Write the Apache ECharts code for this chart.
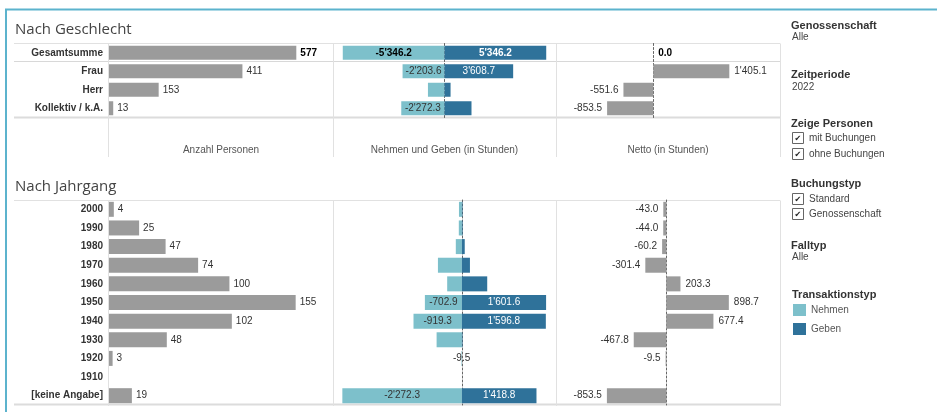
<!DOCTYPE html>
<html>
<head>
<meta charset="utf-8">
<script src="https://cdn.jsdelivr.net/npm/echarts@6/dist/echarts.min.js"></script>
<style>html,body{margin:0;padding:0;background:#fff}#main{width:937px;height:412px}</style>
</head>
<body>
<div id="main"></div>
<script>
var myChart = echarts.init(document.getElementById('main'));

// Nach Geschlecht
var sexCats = ['Gesamtsumme', 'Frau', 'Herr', 'Kollektiv / k.A.'];
var sexPersonen = [577, 411, 153, 13];
var sexNehmen = [-5346.2, -2203.6, -870.3, -2272.3];
var sexGeben = [5346.2, 3608.7, 318.7, 1418.8];
var sexNetto = [0.0, 1405.1, -551.6, -853.5];

// Nach Jahrgang
var yearCats = ['2000', '1990', '1980', '1970', '1960', '1950', '1940', '1930', '1920', '1910', '[keine Angabe]'];
var yearPersonen = [4, 25, 47, 74, 100, 155, 102, 48, 3, null, 19];
var yearNehmen = [-55, -58, -115, -455, -279, -702.9, -919.3, -480.2, -9.5, null, -2272.3];
var yearGeben = [12, 14, 54.8, 153.6, 482.3, 1601.6, 1596.8, 12.4, null, null, 1418.8];
var yearNetto = [-43.0, -44.0, -60.2, -301.4, 203.3, 898.7, 677.4, -467.8, -9.5, null, -853.5];

var FONT = '"Liberation Sans", Arial, sans-serif';
var GREY = '#9b9b9b';
var C_NEHMEN = '#7dc0cb';
var C_GEBEN = '#2f729a';

function fmt(v, dec) {
    var s = Math.abs(v).toFixed(dec).split('.');
    var whole = s[0].replace(/\B(?=(\d{3})+(?!\d))/g, "'");
    return (v < 0 ? '-' : '') + whole + (dec ? '.' + s[1] : '');
}

var panelX = [[109, 224], [333, 223], [556, 224]];
var sections = [
    {top: 43.5, height: 74, barWidth: 14, cats: sexCats, personen: sexPersonen, nehmen: sexNehmen, geben: sexGeben, netto: sexNetto,
     pMax: 690, ngMin: -5860, ngMax: 5860, nMin: -1798, nMax: 2342, labelMin: 1750, totalRow: true},
    {top: 200, height: 205, barWidth: 15, cats: yearCats, personen: yearPersonen, nehmen: yearNehmen, geben: yearGeben, netto: yearNetto,
     pMax: 186, ngMin: -2450, ngMax: 1790, nMin: -1585, nMax: 1634, labelMin: 640, totalRow: false}
];
var axisNames = ['Anzahl Personen', 'Nehmen und Geben (in Stunden)', 'Netto (in Stunden)'];

var grids = [], xAxes = [], yAxes = [], series = [];

sections.forEach(function (sec, s) {
    var ranges = [[0, sec.pMax], [sec.ngMin, sec.ngMax], [sec.nMin, sec.nMax]];
    panelX.forEach(function (px, p) {
        var idx = s * 3 + p;
        grids.push({left: px[0], width: px[1], top: sec.top, height: sec.height});
        xAxes.push({
            type: 'value', gridIndex: idx, min: ranges[p][0], max: ranges[p][1],
            axisLabel: {show: false}, axisTick: {show: false}, axisLine: {show: false}, splitLine: {show: false},
            name: s === 0 ? axisNames[p] : '', nameLocation: 'middle', nameGap: 28,
            nameTextStyle: {color: '#555', fontSize: 10, fontFamily: FONT}
        });
        yAxes.push({
            type: 'category', gridIndex: idx, data: sec.cats, inverse: true,
            axisTick: {show: false},
            axisLabel: {show: p === 0, fontSize: 10, fontWeight: 'bold', color: '#333', fontFamily: FONT, margin: 6},
            axisLine: {show: p > 0, onZero: true, lineStyle: {color: '#666', type: [2, 2], width: 1}}
        });
    });

    var boldFirst = function (v, i, extra) {
        var item = {value: v, label: extra || {}};
        if (sec.totalRow && i === 0) {
            item.label.fontWeight = 'bold';
        }
        return item;
    };

    series.push({
        type: 'bar', xAxisIndex: s * 3, yAxisIndex: s * 3, barWidth: sec.barWidth, silent: true,
        itemStyle: {color: GREY},
        label: {show: true, position: 'right', distance: 4, fontSize: 10, color: '#333', fontFamily: FONT},
        data: sec.personen.map(function (v, i) { return boldFirst(v, i, i === 0 && sec.totalRow ? {color: '#000'} : {}); })
    });
    series.push({
        name: 'Nehmen', type: 'bar', xAxisIndex: s * 3 + 1, yAxisIndex: s * 3 + 1, barWidth: sec.barWidth, barGap: '-100%', silent: true,
        itemStyle: {color: C_NEHMEN},
        label: {show: true, position: 'inside', fontSize: 10, color: '#333', fontFamily: FONT,
            formatter: function (p) {
                var other = sec.geben[p.dataIndex];
                return (Math.abs(p.value) >= sec.labelMin || other == null) ? fmt(p.value, 1) : '';
            }},
        data: sec.nehmen.map(function (v, i) { return boldFirst(v, i, i === 0 && sec.totalRow ? {color: '#000'} : {}); })
    });
    series.push({
        name: 'Geben', type: 'bar', xAxisIndex: s * 3 + 1, yAxisIndex: s * 3 + 1, barWidth: sec.barWidth, barGap: '-100%', silent: true,
        itemStyle: {color: C_GEBEN},
        label: {show: true, position: 'inside', fontSize: 10, color: '#fff', fontFamily: FONT,
            formatter: function (p) {
                return Math.abs(p.value) >= sec.labelMin ? fmt(p.value, 1) : '';
            }},
        data: sec.geben.map(function (v, i) { return boldFirst(v, i); })
    });
    series.push({
        type: 'bar', xAxisIndex: s * 3 + 2, yAxisIndex: s * 3 + 2, barWidth: sec.barWidth, silent: true,
        itemStyle: {color: GREY},
        label: {show: true, distance: 5, fontSize: 10, color: '#333', fontFamily: FONT,
            formatter: function (p) { return fmt(p.value, 1); }},
        data: sec.netto.map(function (v, i) {
            if (v == null) return null;
            var extra = {position: v < 0 ? 'left' : 'right'};
            if (i === 0 && sec.totalRow) extra.color = '#000';
            return boldFirst(v, i, extra);
        })
    });
});

// separator lines
var LINE = '#e1e1e1';
var graphics = [];
function hline(y, x1, x2, w, c) {
    graphics.push({type: 'line', silent: true, shape: {x1: x1, y1: y, x2: x2, y2: y}, style: {stroke: c || LINE, lineWidth: w || 1}});
}
function vline(x, y1, y2, c) {
    graphics.push({type: 'line', silent: true, shape: {x1: x, y1: y1, x2: x, y2: y2}, style: {stroke: c || LINE, lineWidth: 1}});
}
hline(43.5, 14, 780);
hline(61.5, 14, 780, 1, '#d8d8d8');
hline(117.5, 14, 780, 2, '#dcdcdc');
hline(200.5, 14, 780);
hline(404.5, 14, 780, 2, '#dcdcdc');
[108.5, 333.5, 556.5, 780.5].forEach(function (x) {
    vline(x, 43.5, 157);
    vline(x, 200.5, 406);
});
// outer frame
hline(9.5, 5, 937, 2, '#5cb3cd');
vline(6, 9, 412, '#5cb3cd');
graphics[graphics.length - 1].style.lineWidth = 2;

// filter panel
function txt(x, y, t, bold, size, color) {
    graphics.push({type: 'text', silent: true, x: x, y: y,
        style: {text: t, fill: color || '#333', font: (bold ? 'bold ' : '') + (size || 10) + 'px ' + FONT, textVerticalAlign: 'middle'}});
}
function checkbox(x, y, t) {
    graphics.push({type: 'rect', silent: true, shape: {x: x + 0.5, y: y - 5.5, width: 11, height: 11},
        style: {fill: '#fff', stroke: '#666', lineWidth: 1}});
    txt(x + 2.5, y + 0.5, '\u2714', false, 8, '#222');
    graphics[graphics.length - 1].style.font = '8px "DejaVu Sans"';
    txt(x + 17, y, t, false, 10, '#444');
}
txt(791, 26, 'Genossenschaft', true, 11);
txt(792, 37, 'Alle', false, 10, '#444');
txt(791, 75, 'Zeitperiode', true, 11);
txt(792, 87, '2022', false, 10, '#444');
txt(791, 124, 'Zeige Personen', true, 11);
checkbox(792, 138, 'mit Buchungen');
checkbox(792, 154, 'ohne Buchungen');
txt(791, 184, 'Buchungstyp', true, 11);
checkbox(792, 199, 'Standard');
checkbox(792, 214, 'Genossenschaft');
txt(791, 246, 'Falltyp', true, 11);
txt(792, 257, 'Alle', false, 10, '#444');
txt(792, 295, 'Transaktionstyp', true, 11);

option = {
    animation: false,
    backgroundColor: '#fff',
    title: [
        {text: 'Nach Geschlecht', left: 15, top: 22, padding: 0, textStyle: {fontFamily: '"Open Sans"', fontSize: 15, fontWeight: 'normal', color: '#444'}},
        {text: 'Nach Jahrgang', left: 15, top: 179, padding: 0, textStyle: {fontFamily: '"Open Sans"', fontSize: 15, fontWeight: 'normal', color: '#444'}}
    ],
    legend: {
        data: ['Nehmen', 'Geben'], orient: 'vertical', left: 793, top: 304, padding: 0,
        icon: 'rect', itemWidth: 13, itemHeight: 12, itemGap: 7, selectedMode: false,
        textStyle: {color: '#555', fontSize: 10, fontFamily: FONT}
    },
    grid: grids,
    xAxis: xAxes,
    yAxis: yAxes,
    series: series,
    graphic: graphics
};
myChart.setOption(option);
</script>
</body>
</html>
